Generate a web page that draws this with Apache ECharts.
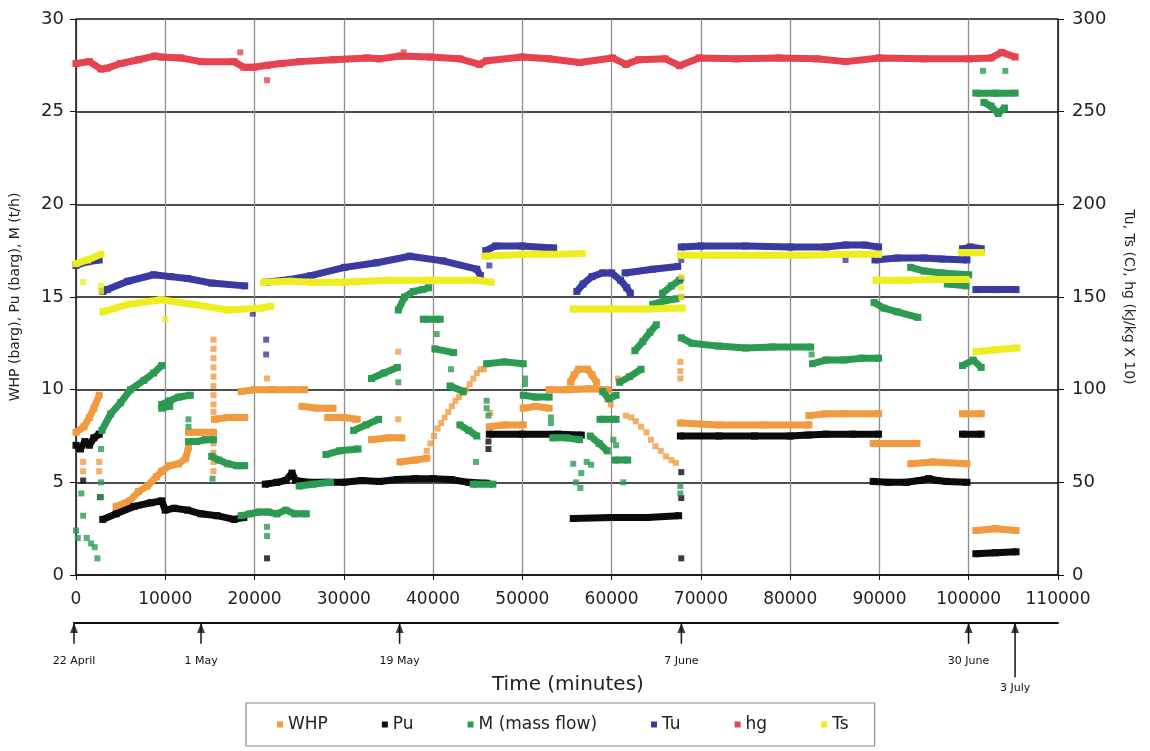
<!DOCTYPE html>
<html>
<head>
<meta charset="utf-8">
<script src="https://cdn.jsdelivr.net/npm/echarts@6/dist/echarts.min.js"></script>
<style>
  html, body { margin: 0; padding: 0; background: #fff; }
  #main { width: 1150px; height: 751px; }
</style>
</head>
<body>
<div id="main"></div>
<script>
// time in minutes, left-axis series in barg / t/h, right-axis series in C or kJ/kg x 10
const seriesNames = ['WHP', 'Pu', 'M (mass flow)', 'Tu', 'hg', 'Ts'];

const dateLabels = ['22 April', '1 May', '19 May', '7 June', '30 June', '3 July'];
const dateMinutes = [0, 14200, 36400, 67900, 100000, 105200];

// WHP (barg)
const whpBands = [
  [[0, 7.7], [900, 8.0], [1500, 8.5], [2000, 9.0], [2600, 9.7]],
  [[4500, 3.7], [6000, 4.0], [7000, 4.5], [8000, 4.8], [9000, 5.3], [9600, 5.6], [10500, 5.9], [11500, 6.0], [12300, 6.3], [12600, 6.9]],
  [[12600, 7.7], [14000, 7.7], [15400, 7.7]],
  [[15500, 8.4], [17000, 8.5], [18900, 8.5]],
  [[18500, 9.9], [20000, 10.0], [22000, 10.0], [24000, 10.0], [25600, 10.0]],
  [[25300, 9.1], [27000, 9.0], [28800, 9.0]],
  [[28200, 8.5], [30000, 8.5], [31500, 8.4]],
  [[33100, 7.3], [35000, 7.4], [36500, 7.4]],
  [[36300, 6.1], [38000, 6.2], [39300, 6.3]],
  [[46300, 8.0], [48000, 8.1], [50100, 8.1]],
  [[50100, 9.0], [51500, 9.1], [53000, 9.0]],
  [[53000, 10.0], [55000, 10.0], [57500, 10.05], [59600, 10.0]],
  [[55400, 10.4], [55800, 10.8], [56300, 11.1], [57300, 11.1], [57800, 10.8], [58300, 10.4]],
  [[67700, 8.2], [72000, 8.1], [77000, 8.1], [82100, 8.1]],
  [[82100, 8.6], [84000, 8.7], [86000, 8.7], [89900, 8.7]],
  [[89300, 7.1], [92000, 7.1], [94200, 7.1]],
  [[93500, 6.0], [96000, 6.1], [99800, 6.0]],
  [[99300, 8.7], [101400, 8.7]],
  [[100800, 2.4], [103000, 2.5], [105300, 2.4]]
];
const whpDots = [
  [800, 6.1], [800, 5.6], [2600, 6.1], [2600, 5.6],
  [15400, 12.7], [15400, 12.2], [15400, 11.7], [15400, 11.2], [15400, 10.7], [15400, 10.2], [15400, 9.7],
  [15400, 9.2], [15400, 8.8], [15400, 7.1], [15400, 6.6], [15400, 6.1], [15400, 5.6],
  [21400, 10.6], [36100, 12.05], [36100, 8.4],
  [39300, 6.7], [39700, 7.1], [40100, 7.5], [40500, 7.9], [40900, 8.2], [41300, 8.5], [41700, 8.8], [42100, 9.1],
  [42500, 9.4], [42900, 9.6], [43300, 9.8], [43700, 10.0], [44100, 10.3], [44500, 10.6], [44900, 10.9], [45300, 11.1], [45700, 11.1],
  [46400, 8.75], [59500, 9.5], [59900, 9.2], [60700, 10.6],
  [61600, 8.6], [62200, 8.5], [62700, 8.3], [63300, 8.0], [63900, 7.7], [64400, 7.3], [64900, 6.95], [65500, 6.7],
  [66100, 6.4], [66700, 6.2], [67200, 6.05],
  [67700, 11.5], [67700, 11.0], [67700, 10.6]
];

// Pu (barg)
const puBands = [
  [[0, 7.0], [500, 6.8], [1000, 7.2], [1500, 7.0], [2000, 7.4], [2600, 7.6]],
  [[3000, 3.0], [4500, 3.3], [6500, 3.7], [8400, 3.9], [9600, 4.0], [10000, 3.5], [11000, 3.6], [12500, 3.5], [14000, 3.3], [15800, 3.2], [17700, 3.0], [18800, 3.1]],
  [[21200, 4.9], [22500, 5.0], [23500, 5.1], [24200, 5.5], [24600, 5.1], [26000, 5.0], [28000, 5.0], [30000, 5.0], [32000, 5.1], [34000, 5.05],
   [36000, 5.15], [38000, 5.2], [40000, 5.2], [42000, 5.15], [44000, 5.0], [46000, 4.95]],
  [[46300, 7.6], [50000, 7.6], [54000, 7.6], [56600, 7.55]],
  [[55700, 3.05], [60000, 3.1], [64000, 3.1], [67500, 3.2]],
  [[67700, 7.5], [72000, 7.5], [76000, 7.5], [80000, 7.5], [82000, 7.55], [84000, 7.6], [87000, 7.6], [89900, 7.6]],
  [[89300, 5.05], [91000, 5.0], [93000, 5.0], [94500, 5.1], [95500, 5.2], [96500, 5.1], [97500, 5.05], [99800, 5.0]],
  [[99300, 7.6], [101400, 7.6]],
  [[100800, 1.15], [103000, 1.2], [105300, 1.25]]
];
const puDots = [[800, 5.1], [2700, 4.2], [21400, 0.9], [46200, 7.2], [46200, 6.8], [67800, 5.55], [67800, 4.15], [67800, 0.9]];

// M (t/h)
const mBands = [
  [[2900, 7.8], [3900, 8.7], [5000, 9.3], [6100, 10.0], [7600, 10.5], [8700, 10.9], [9600, 11.3]],
  [[9600, 9.2], [10500, 9.4], [11500, 9.6], [12800, 9.7]],
  [[9600, 9.0], [10500, 9.1]],
  [[12600, 7.2], [13500, 7.2], [14500, 7.3], [15400, 7.3]],
  [[15200, 6.4], [16000, 6.2], [17000, 6.0], [18000, 5.9], [18900, 5.9]],
  [[18500, 3.2], [19500, 3.3], [20500, 3.4], [21500, 3.4], [22500, 3.3], [23500, 3.5], [24500, 3.3], [25800, 3.3]],
  [[25000, 4.8], [26500, 4.9], [28500, 5.0]],
  [[28000, 6.5], [29500, 6.7], [31600, 6.8]],
  [[31100, 7.8], [32500, 8.1], [33900, 8.4]],
  [[33100, 10.6], [34500, 10.9], [36000, 11.2]],
  [[36100, 14.3], [36800, 15.0], [37800, 15.3], [38800, 15.4], [39500, 15.5]],
  [[38900, 13.8], [40800, 13.8]],
  [[40200, 12.2], [42300, 12.0]],
  [[41900, 10.2], [43400, 9.9]],
  [[43000, 8.1], [44000, 7.8], [44900, 7.5]],
  [[44500, 4.9], [46700, 4.9]],
  [[46000, 11.4], [48000, 11.5], [50100, 11.4]],
  [[50100, 9.7], [51500, 9.6], [53000, 9.6]],
  [[53400, 7.4], [55000, 7.4], [56400, 7.3]],
  [[57600, 7.5], [58600, 7.1], [59500, 6.7]],
  [[58700, 8.4], [60500, 8.4]],
  [[59000, 9.9], [59700, 9.5], [60500, 9.7]],
  [[60400, 6.2], [61800, 6.2]],
  [[60900, 10.4], [62000, 10.7], [63300, 11.1]],
  [[62600, 12.1], [63500, 12.6], [64300, 13.1], [65000, 13.5]],
  [[64600, 14.6], [66000, 14.8], [67200, 14.9]],
  [[65700, 15.2], [66700, 15.6], [67600, 15.9]],
  [[67800, 12.8], [69000, 12.5], [72000, 12.35], [75000, 12.25], [78000, 12.3], [82300, 12.3]],
  [[82500, 11.4], [84000, 11.6], [86000, 11.6], [88000, 11.7], [89900, 11.7]],
  [[89400, 14.7], [90500, 14.4], [92000, 14.2], [94300, 13.9]],
  [[93500, 16.6], [95000, 16.4], [97000, 16.3], [100000, 16.2]],
  [[97600, 15.7], [99700, 15.6]],
  [[99300, 11.3], [100500, 11.6], [101400, 11.2]],
  [[100800, 26.0], [103000, 26.0], [105200, 26.0]],
  [[101700, 25.5], [102500, 25.3], [103300, 24.9], [104000, 25.2]]
];
const mDots = [
  [0, 2.4], [200, 2.0], [600, 4.4], [800, 3.2], [1200, 2.0], [1700, 1.7], [2100, 1.5], [2400, 0.9],
  [2800, 6.8], [2800, 5.0], [2800, 4.2], [12600, 8.4], [12600, 8.0], [15300, 5.2], [21400, 2.6], [21400, 2.1],
  [36100, 10.4], [40400, 13.0], [42000, 11.1], [44800, 6.1], [46000, 9.4], [46000, 9.0], [46200, 8.6],
  [50300, 10.6], [50300, 10.3], [53200, 8.5], [53200, 8.2],
  [55700, 6.0], [56000, 5.0], [56500, 4.7], [56600, 5.5], [57200, 6.1], [57700, 5.95],
  [60200, 7.3], [60500, 7.0], [61300, 5.0], [67700, 4.8], [67700, 4.4], [82400, 11.9],
  [101600, 27.2], [104100, 27.2]
];

// Tu (C)
const tuBands = [
  [[0, 167], [1300, 169], [2600, 170]],
  [[3000, 153], [3500, 154], [5800, 158.5], [8700, 162], [10600, 161], [12500, 160], [15200, 157.5], [18900, 156]],
  [[21300, 158], [24000, 159.5], [26300, 161.5], [30100, 166], [33700, 168.5], [37400, 172], [41100, 169.5], [44900, 165], [45300, 161.5]],
  [[45900, 175], [47000, 177.5], [50000, 177.5], [53500, 176.5]],
  [[56100, 153], [56800, 157], [57800, 161], [59000, 163], [60000, 163], [61000, 159], [61700, 155], [62100, 152]],
  [[61500, 163], [64600, 165], [67400, 166.5]],
  [[67800, 177], [70000, 177.5], [75000, 177.5], [80000, 177], [84000, 177], [86200, 178], [88400, 178], [89900, 177]],
  [[89500, 170], [92000, 171], [95000, 171], [97000, 170.5], [99800, 170]],
  [[99300, 176], [100200, 177], [101400, 176]],
  [[100800, 154], [103000, 154], [105300, 154]]
];
const tuDots = [[19800, 141], [21300, 127], [21300, 119], [46300, 167], [67800, 170], [67800, 160], [67800, 150], [86200, 170]];

// hg (kJ/kg x 10)
const hgBand = [
  [0, 276], [1500, 277], [2800, 273], [3500, 273.5], [5000, 276], [7000, 278], [8800, 280], [9500, 279.5], [11700, 279],
  [14000, 277], [17700, 277], [18800, 274], [19900, 274], [21400, 275], [23000, 276], [25100, 277], [28800, 278],
  [32600, 279], [34000, 278.5], [36300, 280], [39600, 279.5], [43000, 278.5], [45200, 275.5], [46000, 277.5],
  [50000, 279.5], [53000, 278.5], [56400, 276.5], [60100, 279], [61600, 275.5], [63000, 278], [66000, 278.5],
  [67600, 274.8], [69800, 279], [74000, 278.5], [78700, 279], [83000, 278.5], [86200, 277], [90000, 279],
  [95000, 278.5], [100000, 278.5], [102500, 279], [103700, 282], [105200, 279.5]
];
const hgDots = [[18400, 282], [21400, 267], [36700, 282]];

// Ts (C)
const tsBands = [
  [[0, 168], [1300, 170], [2800, 173]],
  [[3000, 142], [5800, 146], [9500, 148.5], [13200, 146], [17000, 143], [20700, 144], [21800, 145]],
  [[21000, 158], [24000, 158.5], [26300, 158], [30000, 158], [35000, 159], [40000, 159], [45000, 159], [46500, 158]],
  [[45800, 172], [50000, 173], [53500, 173], [56700, 173.5]],
  [[55700, 143.5], [60000, 143.5], [64000, 143.5], [67900, 144]],
  [[67700, 172.5], [72000, 172.5], [77000, 172.5], [82000, 172.5], [86000, 173], [89900, 173]],
  [[89600, 159], [93000, 159], [96000, 159.5], [99700, 159.5]],
  [[99200, 174], [101400, 174]],
  [[100800, 120.5], [103000, 121.5], [105400, 122.5]]
];
const tsDots = [[800, 158], [2800, 156], [2800, 153], [10000, 138], [67800, 161], [67800, 155], [67800, 150]];

const colors = ['#f29a40', '#0b0b0b', '#2c9a52', '#3a3aa2', '#e6424f', '#eded1f'];
const font = 'DejaVu Sans';

// segments joined with an empty point so the line breaks between them
function joinSegments(segments) {
  const out = [];
  segments.forEach(function (seg, i) {
    if (i > 0) out.push(['-', '-']);
    seg.forEach(function (p) { out.push(p); });
  });
  return out;
}

const groups = [
  { bands: whpBands, dots: whpDots, axis: 0 },
  { bands: puBands, dots: puDots, axis: 0 },
  { bands: mBands, dots: mDots, axis: 0 },
  { bands: tuBands, dots: tuDots, axis: 1 },
  { bands: [hgBand], dots: hgDots, axis: 1 },
  { bands: tsBands, dots: tsDots, axis: 1 }
];

const series = [];
groups.forEach(function (g, i) {
  series.push({
    type: 'line', name: seriesNames[i], yAxisIndex: g.axis,
    data: joinSegments(g.bands),
    symbol: 'rect', symbolSize: 7, showAllSymbol: true, connectNulls: false,
    lineStyle: { width: 7, color: colors[i] }, itemStyle: { color: colors[i] },
    silent: true, z: 3 + i
  });
  series.push({
    type: 'scatter', name: seriesNames[i], yAxisIndex: g.axis,
    data: g.dots, symbol: 'rect', symbolSize: 6,
    itemStyle: { color: colors[i] }, silent: true, z: 3 + i
  });
});

// date marks under the time axis
const lastDate = dateLabels.length - 1;
series.push({
  type: 'bar', xAxisIndex: 1, yAxisIndex: 2, barWidth: 1.5, clip: false, silent: true,
  itemStyle: { color: '#111' },
  data: dateMinutes.map(function (m, i) {
    return { value: [m, i === lastDate ? 0.97 : 0.37], label: { distance: i === lastDate ? 5 : 12 } };
  }),
  label: {
    show: true, position: 'bottom', fontSize: 11, fontFamily: font, color: '#111',
    formatter: function (p) { return dateLabels[p.dataIndex]; }
  }
});
series.push({
  type: 'scatter', xAxisIndex: 1, yAxisIndex: 2, clip: false, silent: true,
  symbol: 'triangle', symbolSize: [8, 10], symbolOffset: [0, 5],
  itemStyle: { color: '#111' },
  data: dateMinutes.map(function (m) { return [m, 0]; })
});

const plain = function (v) { return String(v); };

const chart = echarts.init(document.getElementById('main'), null, { renderer: 'canvas' });
chart.setOption({
  animation: false,
  backgroundColor: '#fff',
  title: {
    text: 'Time (minutes)', left: 487, top: 670,
    textStyle: { fontSize: 20, fontWeight: 'normal', fontFamily: font, color: '#222' }
  },
  legend: {
    data: seriesNames, left: 246, top: 703, padding: [13, 26, 13, 31],
    itemGap: 54, icon: 'rect', itemWidth: 6, itemHeight: 6,
    borderColor: '#8a8a8a', borderWidth: 1.2,
    textStyle: { fontSize: 17, fontFamily: font, color: '#222' }
  },
  grid: [
    { left: 74, top: 19, width: 984, height: 556 },
    { left: 74, top: 623, width: 984, height: 56 }
  ],
  xAxis: [
    {
      type: 'value', min: 0, max: 110000, interval: 10000,
      axisLine: { show: true, lineStyle: { color: '#111', width: 1.5 } },
      axisTick: { show: true, length: 5, lineStyle: { color: '#111' } },
      axisLabel: { fontSize: 17, fontFamily: font, color: '#222', margin: 16, formatter: plain },
      splitLine: { show: true, lineStyle: { color: '#8c8c8c', width: 1.3 } }
    },
    {
      gridIndex: 1, type: 'value', min: 0, max: 110000, position: 'top',
      axisLine: { show: true, lineStyle: { color: '#111', width: 2 } },
      axisTick: { show: false }, axisLabel: { show: false }, splitLine: { show: false }
    }
  ],
  yAxis: [
    {
      type: 'value', position: 'left', min: 0, max: 30, interval: 5,
      name: 'WHP (barg), Pu (barg), M (t/h)', nameLocation: 'middle', nameRotate: 90, nameGap: 54,
      nameTextStyle: { fontSize: 14, fontFamily: font, color: '#222' },
      axisLine: { show: true, lineStyle: { color: '#111', width: 1.5 } },
      axisTick: { show: true, length: 6, lineStyle: { color: '#111' } },
      axisLabel: { fontSize: 18, fontFamily: font, color: '#222', margin: 12, formatter: plain },
      splitLine: { show: true, lineStyle: { color: '#111', width: 1.6 } }
    },
    {
      type: 'value', position: 'right', min: 0, max: 300, interval: 50,
      name: 'Tu, Ts (C), hg (kJ/kg X 10)', nameLocation: 'middle', nameRotate: -90, nameGap: 64,
      nameTextStyle: { fontSize: 14, fontFamily: font, color: '#222' },
      axisLine: { show: true, lineStyle: { color: '#111', width: 1.5 } },
      axisTick: { show: true, length: 6, lineStyle: { color: '#111' } },
      axisLabel: { fontSize: 18, fontFamily: font, color: '#222', margin: 14, formatter: plain },
      splitLine: { show: false }
    },
    { gridIndex: 1, type: 'value', min: 0, max: 1, inverse: true, show: false }
  ],
  series: series
});
</script>
</body>
</html>
